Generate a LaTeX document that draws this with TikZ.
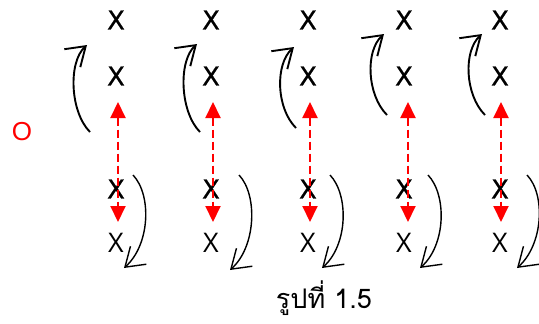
\documentclass[tikz,border=0pt]{standalone}
\usepackage{fontspec}
\setmainfont{Liberation Sans}
\newfontfamily\heavyfont[FakeBold=0.8]{DejaVu Sans}
\newfontfamily\lightfont{Open Sans}
\newfontfamily\thaifont[Script=Thai]{Loma}
\usetikzlibrary{arrows.meta,calc}
\begin{document}
\begin{tikzpicture}[x=1pt,y=-1pt,
  player/.style={font=\heavyfont\fontsize{26}{26}\selectfont, inner sep=0pt},
  thinplayer/.style={font=\lightfont\fontsize{27}{27}\selectfont, inner sep=0pt},
  barb/.tip={Straight Barb[length=18pt,width=24pt]},
  turnup/.style={line width=1.9pt, -barb},
  turndown/.style={line width=1.4pt, -barb},
  pass/.style={red, line width=2pt, dash pattern=on 8pt off 4pt,
    {Triangle[length=16pt,width=15pt]}-{Triangle[length=16pt,width=15pt]}}]
\useasboundingbox (0,0) rectangle (539,324);

% the ball carrier
\node[inner sep=0pt, text=red, font=\fontsize{26}{26}\selectfont] (o) at (22,132) {O};

% five columns: player nodes, a dashed pass and two curved runs each
\foreach \i/\cx/\rx/\ux/\uy/\tx/\ty/\dx/\ex/\ey in {
  1/116/118/90/132/87/45/133/124/268,
  2/211/213/200/132/197/44/239/230/270,
  3/308/310/296/128/294/47/330/322/268,
  4/404/408/387/115/384/34/428/420/268,
  5/500/501/485/115/482/34/527/517/268}{
  \node[player] (a\i) at (\cx,20) {X};
  \node[player] (b\i) at (\cx,76) {X};
  \node[player] (c\i) at (\cx,189) {X};
  \node[thinplayer] (d\i) at (\cx,243) {X};
  % dashed pass between the second and third rows
  \coordinate (p\i) at (\rx,102);
  \coordinate (q\i) at (\rx,222);
  \draw[pass] (p\i) -- (q\i);
  % upward curve on the left
  \coordinate (us\i) at (\ux,\uy);
  \coordinate (ue\i) at (\tx,\ty);
  \draw[turnup] (us\i) .. controls ($(us\i)+(-20,-20)$) and ($(ue\i)+(-19,17)$) .. (ue\i);
  % downward curve on the right
  \coordinate (ds\i) at (\dx,175);
  \coordinate (de\i) at (\ex,\ey);
  \draw[turndown] (ds\i) .. controls ($(ds\i)+(19,20)$) and ($(de\i)+(26,-23)$) .. (de\i);
}

% caption
\node[font=\thaifont\fontsize{27}{27}\selectfont, inner sep=0pt] (cap) at (324,298) {รูปที่ 1.5};
\end{tikzpicture}
\end{document}
